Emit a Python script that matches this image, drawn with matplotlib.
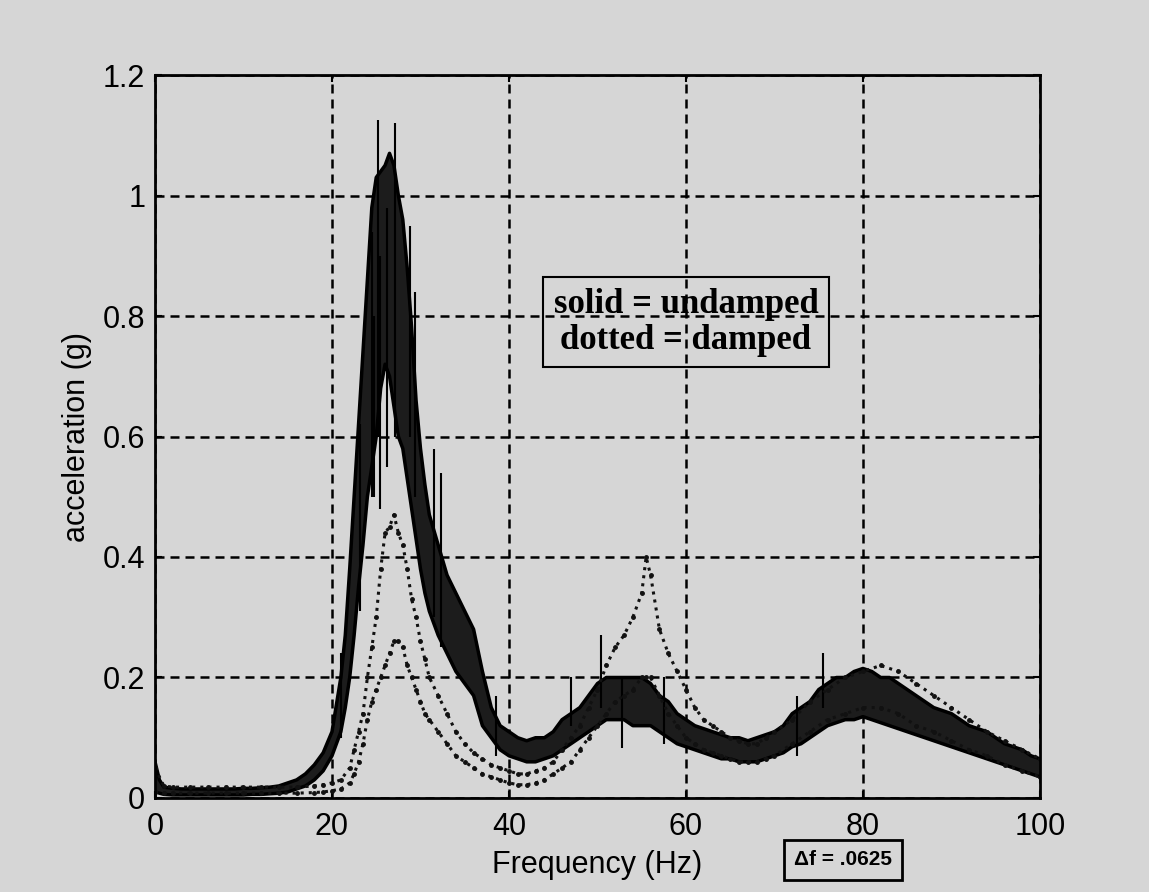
import matplotlib
matplotlib.use('Agg')
import matplotlib.pyplot as plt

# undamped (solid) response: band envelope
solid_f = [0, 0.5, 1, 2, 3, 4, 5, 6, 7, 8, 9, 10, 11, 12, 13, 14, 15, 16, 17, 18, 19,
           20, 21, 21.5, 22, 22.5, 23, 23.5, 24, 24.5, 25, 25.5, 26, 26.5, 27, 27.5,
           28, 28.5, 29, 29.5, 30, 30.5, 31, 32, 33, 34, 35, 36, 37, 38, 39, 40,
           41, 42, 43, 44, 45, 46, 47, 48, 49, 50, 51, 52, 53, 54, 55, 56, 57, 58,
           59, 60, 61, 62, 63, 64, 65, 66, 67, 68, 69, 70, 71, 72, 73, 74, 75, 76,
           77, 78, 79, 80, 81, 82, 83, 84, 85, 86, 87, 88, 89, 90, 91, 92, 93, 94,
           95, 96, 97, 98, 99, 100]
solid_hi = [0.06, 0.03, 0.018, 0.016, 0.015, 0.015, 0.015, 0.015, 0.015, 0.015, 0.015,
            0.016, 0.016, 0.017, 0.018, 0.02, 0.025, 0.03, 0.04, 0.055, 0.075,
            0.11, 0.2, 0.27, 0.38, 0.5, 0.62, 0.74, 0.86, 0.98, 1.03, 1.04, 1.05, 1.07,
            1.05, 1.0, 0.96, 0.88, 0.78, 0.66, 0.58, 0.52, 0.47, 0.42, 0.37, 0.34, 0.31,
            0.28, 0.21, 0.15, 0.12, 0.11, 0.1, 0.095, 0.1, 0.1, 0.11, 0.13, 0.14, 0.15,
            0.17, 0.19, 0.2, 0.2, 0.2, 0.2, 0.2, 0.19, 0.17, 0.16, 0.14, 0.13, 0.12,
            0.115, 0.11, 0.105, 0.1, 0.1, 0.095, 0.1, 0.105, 0.11, 0.12, 0.14, 0.15,
            0.16, 0.18, 0.19, 0.2, 0.2, 0.21, 0.215, 0.21, 0.2, 0.2, 0.19, 0.18, 0.17,
            0.16, 0.15, 0.145, 0.14, 0.13, 0.12, 0.115, 0.11, 0.1, 0.09, 0.085, 0.08,
            0.07, 0.065]
solid_lo = [0.01, 0.008, 0.006, 0.005, 0.005, 0.005, 0.005, 0.005, 0.005, 0.005, 0.005,
            0.005, 0.006, 0.006, 0.007, 0.008, 0.01, 0.015, 0.02, 0.03, 0.045,
            0.07, 0.11, 0.15, 0.2, 0.27, 0.35, 0.42, 0.5, 0.55, 0.6, 0.68, 0.72, 0.7,
            0.65, 0.6, 0.58, 0.53, 0.48, 0.43, 0.38, 0.34, 0.31, 0.27, 0.24, 0.21, 0.19,
            0.17, 0.12, 0.1, 0.08, 0.07, 0.065, 0.06, 0.06, 0.065, 0.07, 0.08, 0.09,
            0.1, 0.11, 0.12, 0.13, 0.13, 0.13, 0.12, 0.12, 0.12, 0.11, 0.1, 0.09,
            0.085, 0.08, 0.075, 0.07, 0.065, 0.065, 0.06, 0.06, 0.06, 0.065, 0.07,
            0.075, 0.085, 0.09, 0.1, 0.11, 0.12, 0.125, 0.13, 0.13, 0.135, 0.13, 0.125,
            0.12, 0.115, 0.11, 0.105, 0.1, 0.095, 0.09, 0.085, 0.08, 0.075, 0.07,
            0.065, 0.06, 0.055, 0.05, 0.045, 0.04, 0.035]

# isolated spikes of the solid trace (freq, bottom, top)
spike_f = [21.0, 23.2, 24.5, 24.7, 25.2, 25.4, 26.2, 27.1, 28.8, 29.4, 31.5, 32.3, 38.5,
           47.0, 50.4, 52.8, 57.5, 72.5, 75.5]
spike_bot = [0.1, 0.31, 0.5, 0.5, 0.6, 0.48, 0.55, 0.6, 0.6, 0.5, 0.3, 0.25, 0.07,
             0.12, 0.15, 0.083, 0.09, 0.07, 0.15]
spike_top = [0.24, 0.62, 0.94, 0.8, 1.125, 0.9, 0.98, 1.12, 0.95, 0.84, 0.58, 0.54, 0.17,
             0.2, 0.27, 0.2, 0.2, 0.17, 0.24]

# damped (dotted) response: spread of the dots
damp_f = [0, 1, 2, 4, 6, 8, 10, 12, 14, 16, 18, 19, 20, 21, 22, 22.5, 23, 23.5, 24,
          24.5, 25, 25.5, 26, 26.5, 27, 27.5, 28, 28.5, 29, 29.5, 30, 30.5, 31, 32,
          33, 34, 35, 36, 37, 38, 39, 40, 41, 42, 43, 44, 45, 46, 47, 48, 49, 50,
          51, 52, 53, 54, 55, 55.5, 56, 57, 58, 59, 60, 61, 62, 63, 64, 65, 66, 67,
          68, 69, 70, 72, 74, 76, 78, 80, 82, 84, 86, 88, 90, 92, 94, 96, 98, 100]
damp_hi = [0.05, 0.02, 0.018, 0.018, 0.018, 0.018, 0.018, 0.018, 0.018, 0.018, 0.02,
           0.022, 0.025, 0.03, 0.05, 0.08, 0.11, 0.14, 0.2, 0.25, 0.3, 0.38, 0.44,
           0.45, 0.47, 0.44, 0.42, 0.38, 0.33, 0.3, 0.26, 0.23, 0.2, 0.17, 0.14, 0.11,
           0.09, 0.075, 0.065, 0.055, 0.05, 0.045, 0.04, 0.04, 0.045, 0.05, 0.06,
           0.08, 0.1, 0.12, 0.15, 0.18, 0.22, 0.25, 0.27, 0.3, 0.34, 0.4, 0.37, 0.28,
           0.24, 0.21, 0.18, 0.15, 0.13, 0.12, 0.11, 0.1, 0.095, 0.09, 0.09, 0.1,
           0.11, 0.13, 0.16, 0.18, 0.2, 0.21, 0.22, 0.21, 0.19, 0.17, 0.15, 0.13,
           0.11, 0.095, 0.08, 0.065]
damp_lo = [0.01, 0.008, 0.008, 0.008, 0.008, 0.008, 0.008, 0.008, 0.008, 0.008, 0.009,
           0.01, 0.012, 0.015, 0.025, 0.04, 0.06, 0.09, 0.13, 0.16, 0.18, 0.2, 0.22,
           0.24, 0.26, 0.26, 0.25, 0.22, 0.2, 0.18, 0.16, 0.14, 0.13, 0.11, 0.09, 0.07,
           0.06, 0.05, 0.04, 0.035, 0.03, 0.025, 0.022, 0.022, 0.025, 0.03, 0.04,
           0.05, 0.06, 0.08, 0.1, 0.12, 0.14, 0.16, 0.17, 0.18, 0.2, 0.2, 0.2, 0.17,
           0.14, 0.12, 0.1, 0.09, 0.08, 0.075, 0.07, 0.065, 0.06, 0.06, 0.06, 0.065,
           0.07, 0.09, 0.11, 0.13, 0.14, 0.15, 0.15, 0.14, 0.12, 0.11, 0.095, 0.08,
           0.07, 0.055, 0.045, 0.035]

x_ticks = [0, 20, 40, 60, 80, 100]
y_ticks = [0, 0.2, 0.4, 0.6, 0.8, 1.0, 1.2]
y_tick_labels = ['0', '0.2', '0.4', '0.6', '0.8', '1', '1.2']

bg = '#d6d6d6'
sans = ['Liberation Sans', 'DejaVu Sans']
serif = ['Liberation Serif', 'DejaVu Serif']

fig = plt.figure(figsize=(11.49, 8.92), dpi=100, facecolor=bg)
ax = fig.add_axes([0.1349, 0.1054, 0.7702, 0.8105], facecolor=bg)

# solid trace as a dense noisy band
ax.fill_between(solid_f, solid_lo, solid_hi, color='#1c1c1c', lw=0, zorder=3)
ax.plot(solid_f, solid_hi, color='black', lw=2.5, zorder=3)
ax.plot(solid_f, solid_lo, color='black', lw=2.5, zorder=3)
ax.vlines(spike_f, spike_bot, spike_top, color='black', lw=1.5, zorder=3)

# dotted trace
for d in (damp_lo, damp_hi):
    ax.plot(damp_f, d, color='#111111', ls=':', lw=2.2, marker='.', ms=5, zorder=4)

ax.set_xlim(0, 100)
ax.set_ylim(0, 1.2)
ax.set_xticks(x_ticks)
ax.set_yticks(y_ticks)
ax.set_yticklabels(y_tick_labels)
ax.grid(True, color='black', ls=(0, (3.6, 2.4)), lw=1.8, zorder=1)
ax.set_axisbelow(True)
ax.tick_params(axis='x', pad=10)
ax.tick_params(direction='in', length=5, width=1.5, top=True, right=True, labelsize=22)
ax.tick_params(axis='y', pad=7)
for lab in ax.get_xticklabels() + ax.get_yticklabels():
    lab.set_family(sans)
for s in ax.spines.values():
    s.set_linewidth(2)
    s.set_zorder(5)

ax.set_xlabel('Frequency (Hz)', fontsize=22, family=sans, labelpad=6)
ax.set_ylabel('acceleration (g)', fontsize=22, family=sans, labelpad=8)

ax.text(60, 0.79, 'solid = undamped\ndotted = damped', ha='center', va='center',
        fontsize=25, family=serif, fontweight='bold', linespacing=1.12, zorder=6,
        bbox=dict(boxstyle='square,pad=0.3', facecolor='none', edgecolor='black', lw=1.5))

fig.text(0.7337, 0.0359, '\u0394f = .0625', ha='center', va='center', fontsize=15,
         fontweight='bold', family=sans,
         bbox=dict(boxstyle='square,pad=0.5', facecolor='none', edgecolor='black', lw=2))

plt.savefig('out.png', dpi=100, facecolor=bg)
